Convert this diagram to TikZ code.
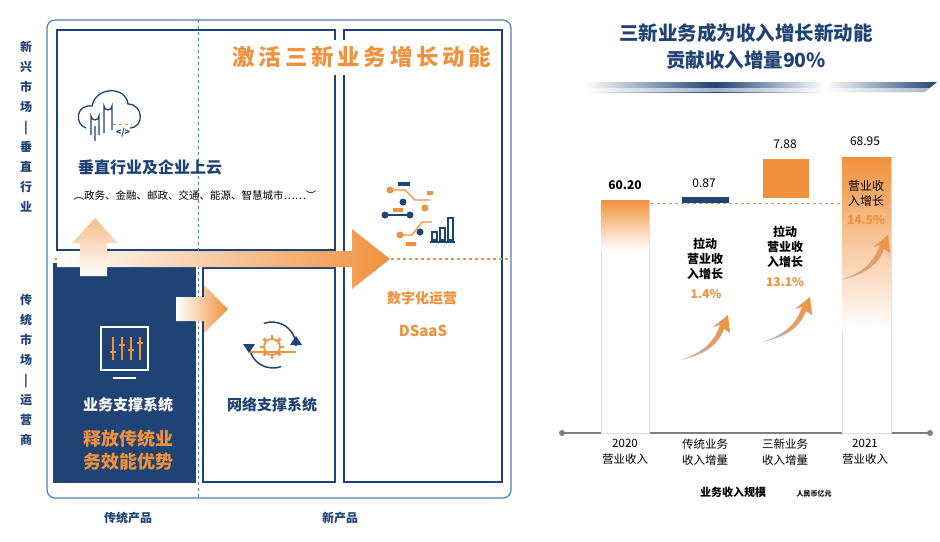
\documentclass[tikz,border=0pt]{standalone}
\usepackage{fontspec}
\setmainfont{Noto Sans CJK SC}
\usetikzlibrary{arrows.meta,shapes.arrows}
\definecolor{dblue}{HTML}{1F4374}
\definecolor{lblue}{HTML}{4F7FB5}
\definecolor{org}{HTML}{F0913D}
\definecolor{brn}{HTML}{9A8A80}
\tikzset{
 box/.style={draw=dblue,line width=1.6pt},
 t/.style={inner sep=0pt,font=\bfseries},
 curv/.style={left color=brn!60,right color=org,draw=none},
}
\begin{document}
\begin{tikzpicture}[x=1pt,y=-1pt]
\useasboundingbox (0,0) rectangle (940,541);
% left frame
\draw[lblue,line width=1.2pt,rounded corners=8pt] (47,20) rectangle (511,498);
\draw[box] (57,30) rectangle (335,250);
\draw[box] (344,30) rectangle (502,482);
\fill[dblue] (53,263) rectangle (196,483);
\draw[box] (203,268) rectangle (335,482);
\fill[white] (200,40) rectangle (350,75);
\draw[lblue,dashed,line width=0.9pt] (198,20) -- (198,498);
\draw[org,dashed,line width=1.1pt] (55,259) -- (508,259);
% arrows
\shade[left color=white,right color=org] (57,251) -- (352,251) -- (352,229) -- (390,259) -- (352,289) -- (352,267) -- (57,267) -- cycle;
\shade[bottom color=white,top color=org!60] (80,276) -- (80,243) -- (72,243) -- (95,218) -- (118,243) -- (107,243) -- (107,276) -- cycle;
\shade[left color=white,right color=org] (176,297) -- (204,297) -- (204,285) -- (228,309) -- (204,333) -- (204,321) -- (176,321) -- cycle;
% title
\node[t,text=org,font=\bfseries\fontsize{22.5}{24}\selectfont] (ttl) at (362,57) {激\,活\,三\,新\,业\,务\,增\,长\,动\,能};
% cloud icon
\draw[dblue,line width=1.3pt] (86,128) .. controls (74,124) and (76,104) .. (92,106) .. controls (96,86) and (126,86) .. (128,104) .. controls (143,104) and (145,127) .. (130,128);
\draw[dblue,line width=1.3pt] (91,135) -- (91,116) arc[start angle=180,end angle=0,radius=4] -- (99,135);
\draw[dblue,line width=1.3pt] (95,141) -- (95,126) (104,133) -- (104,106) arc[start angle=180,end angle=0,radius=4] -- (112,130);
\node[t,text=dblue,font=\bfseries\small] (code) at (123,133) {</>};
\draw[org,dashed,line width=1pt] (113,124) -- (132,124);
\node[t,text=dblue,font=\bfseries\fontsize{16}{18}\selectfont] (vert) at (150,167) {垂直行业及企业上云};
\node[t,text=black,font=\fontsize{10.5}{12}\selectfont] (sub) at (195,195) {︵政务、金融、邮政、交通、能源、智慧城市……︶};
% digital icon
\draw[org,line width=1.4pt] (390,190) -- (405,190) -- (415,200) -- (430,200);
\draw[dblue,line width=1.4pt] (385,215) -- (410,215);
\draw[org,line width=1.4pt] (400,235) -- (412,235) -- (422,222) -- (432,222);
\fill[org] (390,190) circle (3.5pt) (400,235) circle (3.5pt) (425,208) circle (3.5pt);
\fill[dblue] (385,215) circle (3.5pt) (410,215) circle (3.5pt) (403,202) circle(3.5pt) (420,232) circle (3.5pt);
\draw[dblue,line width=1.3pt] (430,242) -- (455,242) (432,240) rectangle (437,232) (440,240) rectangle (445,228) (448,240) rectangle (453,218);
\fill[dblue] (398,182) rectangle (410,186);
\fill[org] (427,191) rectangle (433,195) (406,242) rectangle (416,246) (393,208) rectangle (403,212);
\node[t,text=org,font=\bfseries\fontsize{14}{16}\selectfont] (dig) at (422,298) {数字化运营};
\node[t,text=org,font=\bfseries\fontsize{15}{16}\selectfont] (ds) at (423,331) {DSaaS};
% monitor icon
\draw[white,line width=1.3pt] (101,327) rectangle (148,370) (113,378) -- (136,378);
\draw[org,line width=1.3pt] (113,337) -- (113,360) (122,337) -- (122,360) (131,337) -- (131,360) (140,337) -- (140,360);
\foreach \x/\y in {113/352,122/345,131/350,140/343}{\draw[org,line width=1.3pt] (\x-3,\y) -- (\x+3,\y);}
\node[t,text=white,font=\bfseries\fontsize{15}{16}\selectfont] (bss) at (128,405) {业务支撑系统};
\node[t,text=org,font=\bfseries\fontsize{18}{20}\selectfont,align=center] (rel) at (128,450) {释放传统业\\[3pt]务效能优势};
% gear icon
\draw[dblue,line width=1.5pt] (249,344) arc[start angle=180,end angle=70,radius=24];
\draw[dblue,line width=1.5pt] (296,346) arc[start angle=0,end angle=-110,radius=24];
\fill[dblue] (243,344) -- (255,344) -- (249,353) -- cycle (290,345) -- (302,345) -- (296,336) -- cycle;
\draw[org,line width=1.8pt] (272,347) circle (8pt);
\foreach \a in {0,45,...,315}{\draw[org,line width=2.5pt] (272,347) ++(\a:8) -- ++(\a:4);}
\draw[org,line width=1.5pt] (250,352) -- (296,352);
\node[t,text=dblue,font=\bfseries\fontsize{15}{16}\selectfont] (nss) at (272,405) {网络支撑系统};
% axis labels
\node[t,text=dblue,font=\bfseries\fontsize{12}{13}\selectfont] (tp) at (128,518) {传统产品};
\node[t,text=dblue,font=\bfseries\fontsize{12}{13}\selectfont] (np) at (340,518) {新产品};
\node[t,text=dblue,font=\bfseries\fontsize{12}{20}\selectfont,align=center] (l1) at (26,127) {新\\兴\\市\\场\\|\\垂\\直\\行\\业};
\node[t,text=dblue,font=\bfseries\fontsize{12}{20}\selectfont,align=center] (l2) at (26,370) {传\\统\\市\\场\\|\\运\\营\\商};
% right chart
\node[t,text=dblue,font=\bfseries\fontsize{19.5}{21}\selectfont] (h1) at (746,33) {三新业务成为收入增长新动能};
\node[t,text=dblue,font=\bfseries\fontsize{19.5}{21}\selectfont] (h2) at (746,60) {贡献收入增量90\%};
\shade[left color=white,right color=dblue] (585,82) rectangle (715,92);
\shade[left color=dblue,right color=white] (715,82) rectangle (825,92);
\shade[left color=white,right color=dblue] (825,82) -- (937,82) -- (925,92) -- (825,92) -- cycle;
\fill[white,opacity=0.6] (585,88) rectangle (935,92);
\draw[gray,line width=1.2pt] (562,433) -- (930,433);
\fill[gray] (562,433) circle (3pt) (930,433) circle (3pt);
\draw[gray!25,fill=white] (601,200) rectangle (649,433);
\shade[top color=org,bottom color=white] (601,200) rectangle (649,250);
\fill[dblue] (682,197) rectangle (729,203);
\fill[org] (763,159) rectangle (809,198);
\draw[gray!25,fill=white] (842,157) rectangle (891,433);
\shade[top color=org,bottom color=white] (842,157) rectangle (891,330);
\draw[org,dashed,line width=1pt] (651,203) -- (842,203);
\node[t,font=\bfseries\fontsize{12}{13}\selectfont] (v1) at (625,185) {60.20};
\node[t,font=\fontsize{12}{13}\selectfont] (v2) at (704,183) {0.87};
\node[t,font=\fontsize{12}{13}\selectfont] (v3) at (785,144) {7.88};
\node[t,font=\fontsize{12}{13}\selectfont] (v4) at (865,141) {68.95};
\node[t,font=\fontsize{12}{15}\selectfont,align=center] (b4) at (866,193) {营业收\\入增长};
\node[t,text=org,font=\bfseries\fontsize{12}{13}\selectfont] (p4) at (866,220) {14.5\%};
\node[t,font=\bfseries\fontsize{12}{15}\selectfont,align=center] (b2) at (705,259) {拉动\\营业收\\入增长};
\node[t,text=org,font=\bfseries\fontsize{12}{13}\selectfont] (p2) at (706,294) {1.4\%};
\node[t,font=\bfseries\fontsize{12}{15}\selectfont,align=center] (b3) at (785,247) {拉动\\营业收\\入增长};
\node[t,text=org,font=\bfseries\fontsize{12}{13}\selectfont] (p3) at (785,282) {13.1\%};
\foreach \x/\y in {680/360,762/342,840/280}{
 \shade[curv] (\x,\y) .. controls (\x+25,\y-8) and (\x+35,\y-20) .. (\x+40,\y-35) -- (\x+33,\y-33) -- (\x+48,\y-45) -- (\x+50,\y-27) -- (\x+44,\y-31) .. controls (\x+38,\y-15) and (\x+25,\y-5) .. (\x,\y) -- cycle;}
\foreach \x/\a/\b in {625/2020/营业收入,705/传统业务/收入增量,785/三新业务/收入增量,865/2021/营业收入}{
 \node[t,font=\fontsize{11.5}{16}\selectfont,align=center] at (\x,452) {\a\\\b};}
\node[t,font=\bfseries\fontsize{11}{12}\selectfont] (ax) at (733,492) {业务收入规模};
\node[t,font=\bfseries\fontsize{7}{8}\selectfont] (un) at (814,494) {人民币亿元};
\end{tikzpicture}
\end{document}
